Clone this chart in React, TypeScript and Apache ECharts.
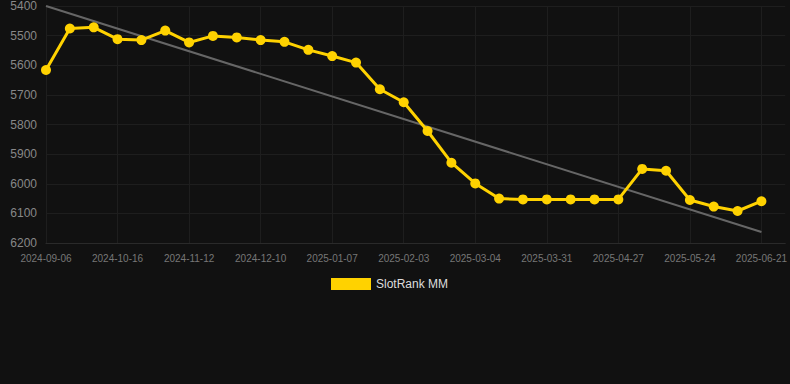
import React, { useEffect, useRef } from "react";
import * as echarts from "echarts";

const dates = [
  "2024-09-06", "2024-09-19", "2024-10-02", "2024-10-16", "2024-10-25", "2024-11-03",
  "2024-11-12", "2024-11-21", "2024-12-01", "2024-12-10", "2024-12-19", "2024-12-28",
  "2025-01-07", "2025-01-16", "2025-01-25", "2025-02-03", "2025-02-13", "2025-02-23",
  "2025-03-04", "2025-03-13", "2025-03-22", "2025-03-31", "2025-04-09", "2025-04-18",
  "2025-04-27", "2025-05-06", "2025-05-15", "2025-05-24", "2025-06-02", "2025-06-11",
  "2025-06-21", "2025-06-30",
];

const rankValues = [
  5616, 5476, 5472, 5512, 5515, 5483, 5523, 5501, 5506, 5515, 5521, 5548, 5569, 5591,
  5681, 5725, 5822, 5929, 5999, 6050, 6053, 6053, 6053, 6053, 6053, 5950, 5956, 6055,
  6077, 6092, 6059,
];

// trend line endpoints (first and last data dates)
const trendStart = 5400;
const trendEnd = 6163;

const yTicks = { min: 5400, max: 6200, interval: 100 };

export default function App() {
  const ref = useRef<HTMLDivElement>(null);
  useEffect(() => {
    if (!ref.current) return;
    const chart = echarts.init(ref.current, null, { renderer: "svg" });
    const trend: (number | null)[] = rankValues.map(() => null);
    trend[0] = trendStart;
    trend[rankValues.length - 1] = trendEnd;
    chart.setOption({
      animation: false,
      backgroundColor: "#111111",
      grid: { left: 46, right: 4, top: 6, bottom: 141 },
      legend: {
        data: ["SlotRank MM"],
        top: 273,
        left: 326,
        itemWidth: 40,
        itemHeight: 12,
        itemGap: 10,
        icon: "rect",
        textStyle: { color: "#dddddd", fontSize: 12 },
      },
      xAxis: {
        type: "category",
        data: dates,
        boundaryGap: false,
        axisLine: { show: true, lineStyle: { color: "#2a2a2a" } },
        axisTick: { show: false },
        axisLabel: {
          interval: 2,
          color: "#777777",
          fontSize: 10,
          margin: 10,
        },
        splitLine: { show: true, interval: 2, lineStyle: { color: "#1e1e1e", width: 1 } },
      },
      yAxis: {
        type: "value",
        inverse: true,
        min: yTicks.min,
        max: yTicks.max,
        interval: yTicks.interval,
        axisLine: { show: false },
        axisTick: { show: false },
        axisLabel: { color: "#888888", fontSize: 12, margin: 9, formatter: (v: number) => String(v) },
        splitLine: { show: true, lineStyle: { color: "#1e1e1e", width: 1 } },
      },
      series: [
        {
          name: "trend",
          type: "line",
          data: trend,
          connectNulls: true,
          symbol: "none",
          lineStyle: { color: "#666666", width: 2 },
          silent: true,
          z: 1,
        },
        {
          name: "SlotRank MM",
          type: "line",
          data: rankValues,
          symbol: "circle",
          symbolSize: 10,
          itemStyle: { color: "#FFD200" },
          lineStyle: { color: "#FFD200", width: 3 },
          z: 3,
        },
      ],
    });
    return () => chart.dispose();
  }, []);
  return (
    <div
      ref={ref}
      style={{ position: "fixed", left: 0, top: 0, width: 790, height: 384 }}
    />
  );
}
